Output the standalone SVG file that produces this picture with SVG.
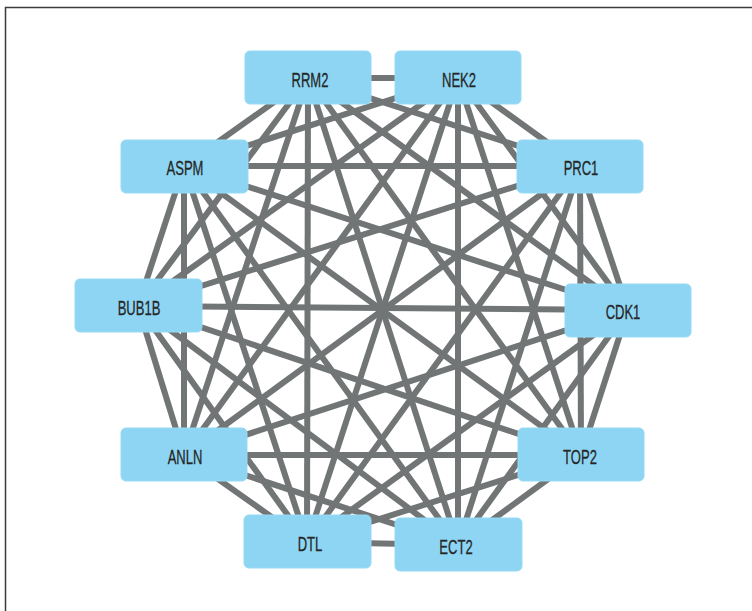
<svg xmlns="http://www.w3.org/2000/svg" width="752" height="611" viewBox="0 0 752 611">
<style>
.frame{stroke:#3a3a3a;stroke-width:1.5;fill:none}
.e{stroke:#727575;stroke-width:6;stroke-linecap:butt}
.n rect{fill:#8dd5f3;stroke:#97daf5;stroke-width:1}
.n text{font-family:"Liberation Sans",Arial,sans-serif;font-size:21px;fill:#262626;stroke:#262626;stroke-width:0.3;text-anchor:middle}
</style>
<rect width="752" height="611" fill="#ffffff"/>
<path class="frame" d="M5.5 611 V7.5 H752"/>
<g id="edges">
<line class="e" x1="308" y1="78" x2="458" y2="78"/>
<line class="e" x1="308" y1="78" x2="184" y2="166"/>
<line class="e" x1="308" y1="78" x2="580" y2="166"/>
<line class="e" x1="308" y1="78" x2="138" y2="306"/>
<line class="e" x1="308" y1="78" x2="628" y2="310"/>
<line class="e" x1="308" y1="78" x2="184" y2="455"/>
<line class="e" x1="308" y1="78" x2="581" y2="455"/>
<line class="e" x1="308" y1="78" x2="307" y2="542"/>
<line class="e" x1="308" y1="78" x2="458" y2="545"/>
<line class="e" x1="458" y1="78" x2="184" y2="166"/>
<line class="e" x1="458" y1="78" x2="580" y2="166"/>
<line class="e" x1="458" y1="78" x2="138" y2="306"/>
<line class="e" x1="458" y1="78" x2="628" y2="310"/>
<line class="e" x1="458" y1="78" x2="184" y2="455"/>
<line class="e" x1="458" y1="78" x2="581" y2="455"/>
<line class="e" x1="458" y1="78" x2="307" y2="542"/>
<line class="e" x1="458" y1="78" x2="458" y2="545"/>
<line class="e" x1="184" y1="166" x2="580" y2="166"/>
<line class="e" x1="184" y1="166" x2="138" y2="306"/>
<line class="e" x1="184" y1="166" x2="628" y2="310"/>
<line class="e" x1="184" y1="166" x2="184" y2="455"/>
<line class="e" x1="184" y1="166" x2="581" y2="455"/>
<line class="e" x1="184" y1="166" x2="307" y2="542"/>
<line class="e" x1="184" y1="166" x2="458" y2="545"/>
<line class="e" x1="580" y1="166" x2="138" y2="306"/>
<line class="e" x1="580" y1="166" x2="628" y2="310"/>
<line class="e" x1="580" y1="166" x2="184" y2="455"/>
<line class="e" x1="580" y1="166" x2="581" y2="455"/>
<line class="e" x1="580" y1="166" x2="307" y2="542"/>
<line class="e" x1="580" y1="166" x2="458" y2="545"/>
<line class="e" x1="138" y1="306" x2="628" y2="310"/>
<line class="e" x1="138" y1="306" x2="184" y2="455"/>
<line class="e" x1="138" y1="306" x2="581" y2="455"/>
<line class="e" x1="138" y1="306" x2="307" y2="542"/>
<line class="e" x1="138" y1="306" x2="458" y2="545"/>
<line class="e" x1="628" y1="310" x2="184" y2="455"/>
<line class="e" x1="628" y1="310" x2="581" y2="455"/>
<line class="e" x1="628" y1="310" x2="307" y2="542"/>
<line class="e" x1="628" y1="310" x2="458" y2="545"/>
<line class="e" x1="184" y1="455" x2="581" y2="455"/>
<line class="e" x1="184" y1="455" x2="307" y2="542"/>
<line class="e" x1="184" y1="455" x2="458" y2="545"/>
<line class="e" x1="581" y1="455" x2="307" y2="542"/>
<line class="e" x1="581" y1="455" x2="458" y2="545"/>
<line class="e" x1="307" y1="542" x2="458" y2="545"/>
</g>
<g id="RRM2" class="n"><rect x="245" y="51" width="126" height="53" rx="5"/><text transform="translate(310,87) scale(0.62,1)">RRM2</text></g>
<g id="NEK2" class="n"><rect x="395" y="51" width="126" height="53" rx="5"/><text transform="translate(459,87) scale(0.62,1)">NEK2</text></g>
<g id="ASPM" class="n"><rect x="121" y="140" width="127" height="53" rx="5"/><text transform="translate(185,175) scale(0.62,1)">ASPM</text></g>
<g id="PRC1" class="n"><rect x="517" y="140" width="126" height="53" rx="5"/><text transform="translate(581,175) scale(0.62,1)">PRC1</text></g>
<g id="BUB1B" class="n"><rect x="75" y="279" width="127" height="53" rx="5"/><text transform="translate(139,315) scale(0.62,1)">BUB1B</text></g>
<g id="CDK1" class="n"><rect x="565" y="284" width="126" height="53" rx="5"/><text transform="translate(623,319) scale(0.62,1)">CDK1</text></g>
<g id="ANLN" class="n"><rect x="121" y="428" width="126" height="53" rx="5"/><text transform="translate(185,464) scale(0.62,1)">ANLN</text></g>
<g id="TOP2" class="n"><rect x="518" y="428" width="126" height="53" rx="5"/><text transform="translate(580,464) scale(0.62,1)">TOP2</text></g>
<g id="DTL" class="n"><rect x="244" y="515" width="127" height="53" rx="5"/><text transform="translate(310,551) scale(0.62,1)">DTL</text></g>
<g id="ECT2" class="n"><rect x="395" y="518" width="127" height="53" rx="5"/><text transform="translate(456,554) scale(0.62,1)">ECT2</text></g>
</svg>
